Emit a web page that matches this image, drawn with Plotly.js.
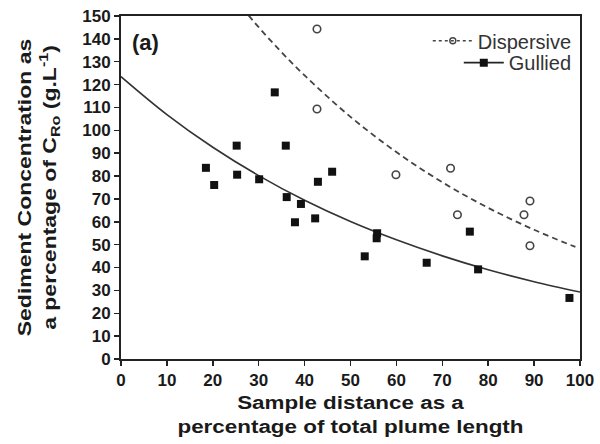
<!DOCTYPE html>
<html>
<head>
<meta charset="utf-8">
<script src="https://cdn.plot.ly/plotly-3.0.1.min.js"></script>
<style>html,body{margin:0;padding:0;background:#fff;}#chart{width:600px;height:444px;}</style>
</head>
<body>
<div id="chart"></div>
<script>
// Gullied samples (filled squares)
const gulliedX = [18.5, 20.3, 25.2, 25.3, 30.1, 33.5, 35.9, 36.1, 39.2, 37.9, 42.3, 42.9, 46.0, 55.8, 55.7, 53.1, 66.6, 76.0, 77.8, 97.7];
const gulliedY = [83.6, 76.1, 93.3, 80.6, 78.6, 116.6, 93.3, 70.8, 67.8, 59.8, 61.5, 77.5, 81.9, 55.0, 52.8, 44.9, 42.1, 55.7, 39.2, 26.7];
// Dispersive samples (open circles)
const dispersiveX = [42.7, 42.7, 59.9, 71.8, 73.3, 87.8, 89.1, 89.1];
const dispersiveY = [144.3, 109.3, 80.6, 83.4, 63.1, 63.1, 69.1, 49.5];
// Fitted curves
const gulliedFitX = [0, 10, 20, 30, 40, 50, 60, 70, 80, 90, 100];
const gulliedFitY = [123.5, 106.9, 92.6, 80.2, 69.4, 60.1, 52.1, 45.1, 39.0, 33.8, 29.3];
const dispersiveFitX = [25, 30, 35, 40, 50, 60, 70, 80, 90, 99];
const dispersiveFitY = [157.0, 145.1, 134.1, 124.0, 105.9, 90.5, 77.3, 66.1, 56.5, 49.0];
const seriesNames = ["Dispersive", "Gullied"];

const FAM = "Liberation Sans, Arial, sans-serif";
const tickFont = {family: FAM, size: 17, color: "#1a1a1a", weight: "bold"};
const titleFont = {family: FAM, size: 19, color: "#1a1a1a", weight: "bold"};
const legendFont = {family: FAM, size: 20, color: "#333"};

const traces = [
  {x: dispersiveFitX, y: dispersiveFitY, mode: "lines", line: {color: "#444", width: 1.8, dash: "6px,4px", shape: "spline"}, showlegend: false, hoverinfo: "skip"},
  {x: gulliedFitX, y: gulliedFitY, mode: "lines", line: {color: "#333", width: 1.6, shape: "spline"}, showlegend: false, hoverinfo: "skip"},
  {x: dispersiveX, y: dispersiveY, mode: "markers", marker: {symbol: "circle-open", size: 7.5, color: "#444", line: {width: 1.6, color: "#444"}}, showlegend: false},
  {x: gulliedX, y: gulliedY, mode: "markers", marker: {symbol: "square", size: 8, color: "#111"}, showlegend: false},
  {x: [null], y: [null], name: seriesNames[0], legend: "legend", mode: "lines+markers", line: {color: "#444", width: 1.6, dash: "3px,3px"}, marker: {symbol: "circle-open", size: 6, color: "#444", line: {width: 1.4, color: "#444"}}},
  {x: [null], y: [null], name: seriesNames[1], legend: "legend2", mode: "lines+markers", line: {color: "#222", width: 1.6}, marker: {symbol: "square", size: 8, color: "#111"}}
];

const layout = {
  width: 600, height: 444,
  margin: {l: 121, r: 20, t: 16, b: 85},
  paper_bgcolor: "#fff", plot_bgcolor: "#fff",
  showlegend: true,
  legend: {x: 0.993, xanchor: "right", y: 0.928, yanchor: "middle", bgcolor: "rgba(0,0,0,0)", font: legendFont, itemwidth: 40},
  legend2: {x: 0.993, xanchor: "right", y: 0.864, yanchor: "middle", bgcolor: "rgba(0,0,0,0)", font: legendFont, itemwidth: 40},
  xaxis: {
    range: [0, 100], dtick: 10, tick0: 0,
    showgrid: false, zeroline: false,
    showline: true, linecolor: "#222", linewidth: 2, mirror: true,
    ticks: "outside", ticklen: 5, tickwidth: 1.5, tickcolor: "#222",
    tickfont: tickFont,
    title: {text: "Sample distance as a<br>percentage of total plume length", font: titleFont, standoff: 6}
  },
  yaxis: {
    range: [0, 150], dtick: 10, tick0: 0,
    showgrid: false, zeroline: false,
    showline: true, linecolor: "#222", linewidth: 2, mirror: true,
    ticks: "outside", ticklen: 5, tickwidth: 1.5, tickcolor: "#222",
    tickfont: tickFont,
    title: {text: "Sediment Concentration as<br>a percentage of C<sub>Ro</sub> (g.L<sup>-1</sup>)", font: titleFont, standoff: 21}
  },
  annotations: [
    {x: 2, y: 138.5, xref: "x", yref: "y", xanchor: "left", yanchor: "middle", text: "(a)", showarrow: false,
     font: {family: FAM, size: 22, color: "#1a1a1a", weight: "bold"}}
  ]
};

function stretch(sel, sx, sy) {
  const g = document.querySelector(sel);
  if (!g) return;
  const b = g.getBBox();
  const cx = b.x + b.width / 2, cy = b.y + b.height / 2;
  g.setAttribute("transform", `translate(${cx},${cy}) scale(${sx},${sy}) translate(${-cx},${-cy})`);
}

Plotly.newPlot("chart", traces, layout, {displayModeBar: false, staticPlot: true}).then(() => {
  stretch(".g-xtitle", 1.18, 1);
  stretch(".g-ytitle", 1, 1.21);
});
</script>
</body>
</html>
